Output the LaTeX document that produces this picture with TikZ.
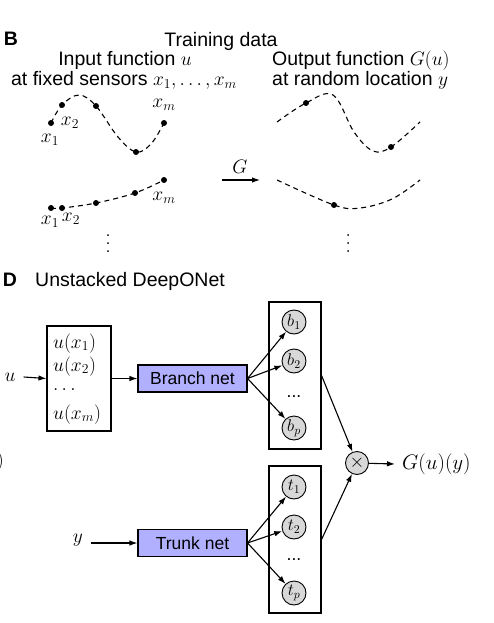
\RequirePackage{fix-cm}
\documentclass[tikz,border=0pt]{standalone}
\usepackage[no-math]{fontspec}
\setsansfont{Liberation Sans}
\usetikzlibrary{arrows.meta}
\definecolor{netblue}{RGB}{176,176,255}
\definecolor{unitgray}{RGB}{216,216,216}
\begin{document}
\begin{tikzpicture}[x=1pt,y=-1pt,
  txtB/.style={font=\sffamily\fontsize{19.5}{22}\selectfont, inner sep=0pt},
  txtD/.style={font=\sffamily\fontsize{17.5}{20}\selectfont, inner sep=0pt},
  hdr/.style={font=\sffamily\bfseries\fontsize{19.5}{22}\selectfont, inner sep=0pt},
  mth/.style={font=\fontsize{19.5}{22}\selectfont, inner sep=0pt},
  crv/.style={line width=1.1pt, dash pattern=on 5pt off 4pt},
  pt/.style={circle, fill=black, inner sep=0pt, minimum size=6pt},
  vd/.style={circle, fill=black, inner sep=0pt, minimum size=2pt},
  arr/.style={line width=1.1pt, -{Latex[length=8pt,width=5.5pt]}},
  netbox/.style={draw, line width=1.1pt, fill=netblue, minimum width=109pt, minimum height=27pt, inner sep=0pt, font=\sffamily\fontsize{17.5}{20}\selectfont},
  colbox/.style={draw, line width=1.1pt, minimum width=52pt, minimum height=147pt, inner sep=0pt},
  unit/.style={circle, draw, line width=0.9pt, fill=unitgray, minimum size=24pt, inner sep=0pt, font=\fontsize{17}{20}\selectfont}
]
\useasboundingbox (0,0) rectangle (493,623);

% ---------- Part B ----------
\node[hdr, anchor=base] (lB) at (11,46) {B};
\node[txtB, anchor=base] (train) at (221,46.5) {Training data};
\node[txtB, anchor=base] (inf1) at (125,66) {Input function $u$};
\node[txtB, anchor=base] (inf2) at (124,86) {at fixed sensors $x_1,\dots,x_m$};
\node[txtB, anchor=base west] (outf1) at (272,66) {Output function $G(u)$};
\node[txtB, anchor=base west] (outf2) at (272,86) {at random location $y$};

% top-left curve
\draw[crv] plot[smooth, tension=0.6] coordinates {(51,123) (62,105) (79,95) (96,106) (118,137) (136,152) (151,144) (164,123)};
\node[pt] (a1) at (51,123) {};
\node[pt] (a2) at (62,105) {};
\node[pt] (a3) at (96,106) {};
\node[pt] (a4) at (136,152) {};
\node[pt] (a5) at (164,123) {};
\node[mth] (la1) at (50,140) {$x_1$};
\node[mth] (la2) at (70,123) {$x_2$};
\node[mth] (la5) at (164,105) {$x_m$};

% bottom-left curve
\draw[crv] plot[smooth, tension=0.6] coordinates {(51,208) (62,208) (96,203) (135,193) (164,180)};
\node[pt] (c1) at (51,208) {};
\node[pt] (c2) at (62,208) {};
\node[pt] (c3) at (96,203) {};
\node[pt] (c4) at (135,193) {};
\node[pt] (c5) at (164,180) {};
\node[mth] (lc1) at (50,222) {$x_1$};
\node[mth] (lc2) at (71,219) {$x_2$};
\node[mth] (lc5) at (164,198) {$x_m$};

% vertical dots
\foreach \yy in {235,243,251} {\node[vd] at (108,\yy) {}; \node[vd] at (348,\yy) {};}

% G arrow
\coordinate (gs) at (222,180);
\coordinate (ge) at (260,180);
\draw[arr] (gs) -- (ge);
\node[mth] (gl) at (240,167) {$G$};

% top-right curve
\draw[crv] plot[smooth, tension=0.6] coordinates {(277,122) (306,103) (333,95) (354,132) (373,151) (391,147) (420,122)};
\node[pt] (o1) at (306,103) {};
\node[pt] (o2) at (391,147) {};

% bottom-right curve
\draw[crv] plot[smooth, tension=0.6] coordinates {(277,180) (334,205) (360,208) (392,199) (420,180)};
\node[pt] (o3) at (334,205) {};

% ---------- Part D ----------
\node[hdr, anchor=base] (lD) at (10,286) {D};
\node[txtB, anchor=base west] (titD) at (35,286.5) {Unstacked DeepONet};

\node[mth, anchor=east] (frag) at (4,462) {$)$};

% input box
\node[draw, line width=1.1pt, minimum width=64pt, minimum height=105pt, inner sep=0pt] (inbox) at (79,378.5) {};
\node[mth, anchor=base west] (ux1) at (53,348) {$u(x_1)$};
\node[mth, anchor=base west] (ux2) at (53,371) {$u(x_2)$};
\node[mth, anchor=base west] (uxd) at (53,390) {$\ldots$};
\node[mth, anchor=base west] (uxm) at (53,419) {$u(x_m)$};
\node[mth] (ulbl) at (10,377) {$u$};
\draw[arr] ([xshift=8pt]ulbl.east) -- (inbox.west);

% branch net
\node[netbox] (branch) at (192.5,378.5) {Branch net};
\draw[arr] (inbox.east) -- (branch.west);

\node[colbox] (bbox) at (295,375.5) {};
\node[unit] (b1) at (294,322) {$b_1$};
\node[unit] (b2) at (294,361) {$b_2$};
\node[txtD, anchor=base] (bd) at (294,397) {...};
\node[unit] (bp) at (294,428) {$b_p$};
\draw[arr] (branch.east) -- (b1);
\draw[arr] (branch.east) -- (b2);
\draw[arr] (branch.east) -- (bp);

% trunk net
\node[netbox] (trunk) at (192.5,543) {Trunk net};
\node[mth] (ylbl) at (78,540) {$y$};
\draw[arr] ([xshift=8pt]ylbl.east |- trunk.west) -- (trunk.west);

\node[colbox] (tbox) at (295,539.5) {};
\node[unit] (t1) at (294,487) {$t_1$};
\node[unit] (t2) at (294,527) {$t_2$};
\node[txtD, anchor=base] (td) at (294,560) {...};
\node[unit] (tp) at (294,593) {$t_p$};
\draw[arr] (trunk.east) -- (t1);
\draw[arr] (trunk.east) -- (t2);
\draw[arr] (trunk.east) -- (tp);

% product
\node[unit, minimum size=23pt, font=\fontsize{19}{22}\selectfont] (times) at (357,463) {$\times$};
\draw[arr] (bbox.east) -- (times);
\draw[arr] (tbox.east) -- (times);
\node[mth, anchor=west, font=\fontsize{21}{24}\selectfont] (gout) at (402,464) {$G(u)(y)$};
\draw[arr] (times) -- ([xshift=-7pt]gout.west);
\end{tikzpicture}
\end{document}
